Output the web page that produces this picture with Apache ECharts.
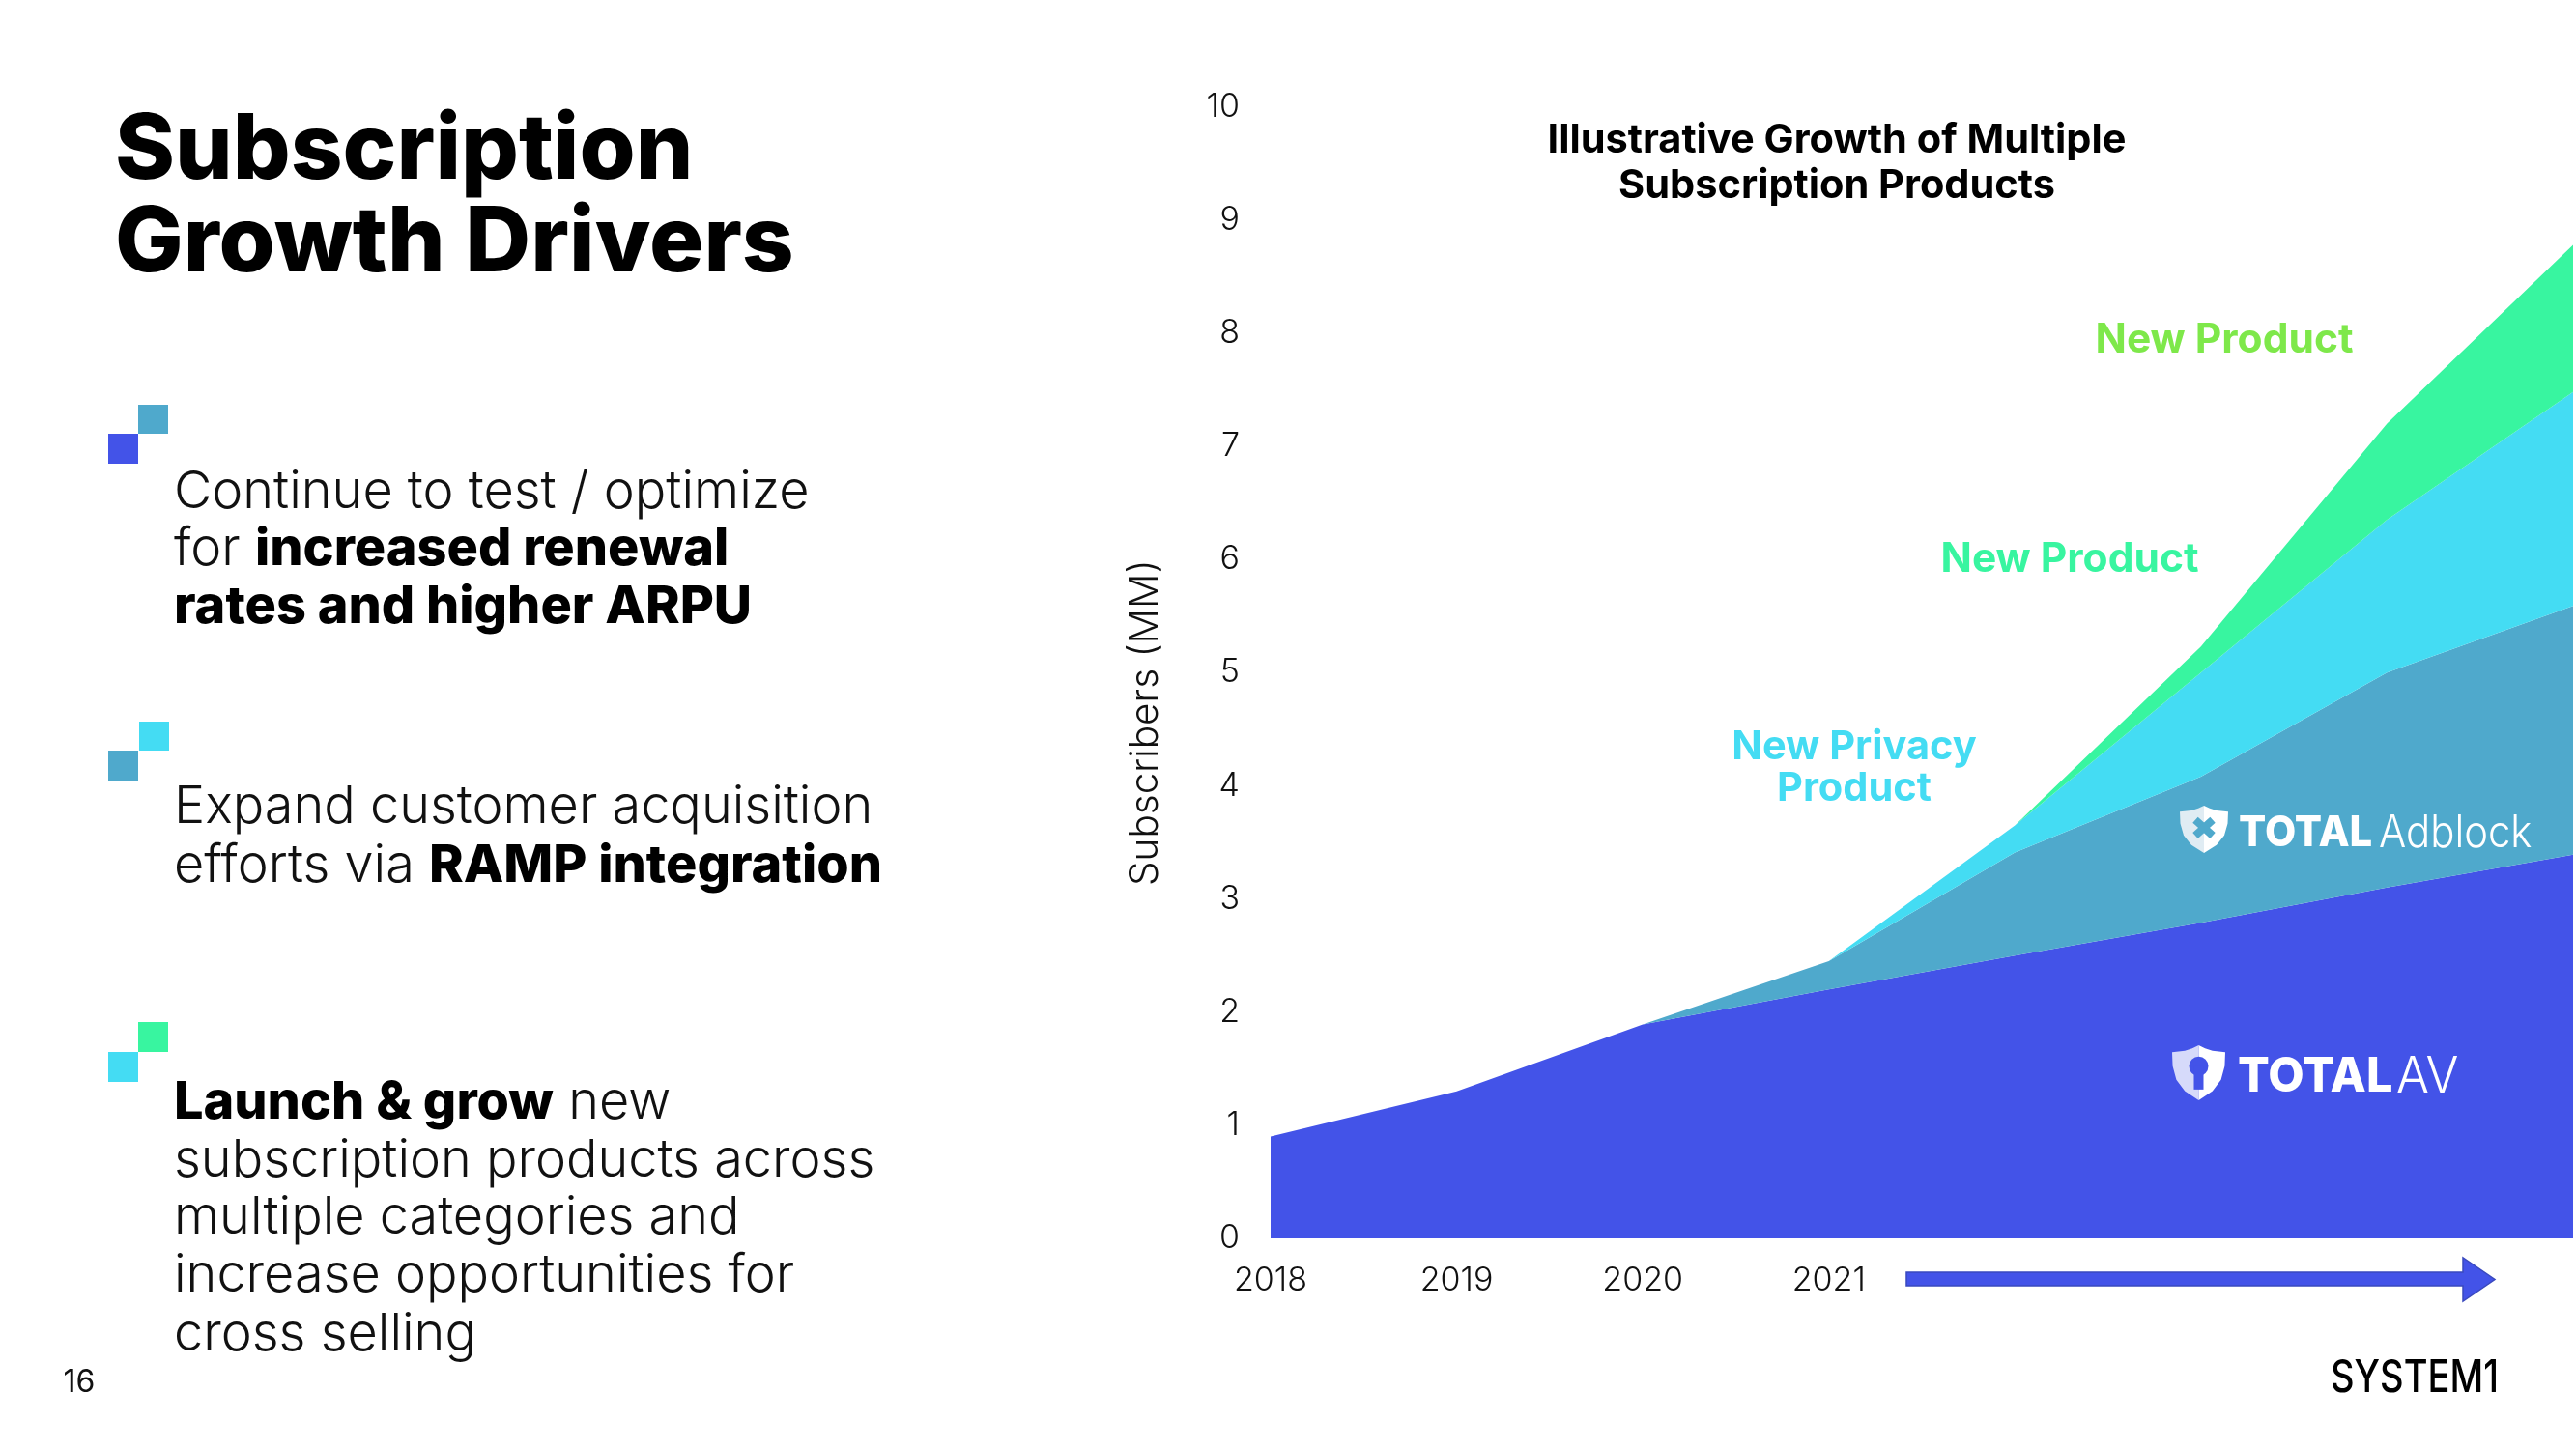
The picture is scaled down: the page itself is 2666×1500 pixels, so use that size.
<!DOCTYPE html>
<html><head><meta charset="utf-8">
<style>html,body{margin:0;padding:0;background:#fff;overflow:hidden}#c{width:2666px;height:1500px}</style>
<script src="https://cdn.jsdelivr.net/npm/echarts@6/dist/echarts.min.js"></script>
</head><body><div id="c"></div>
<script>
const years = ['2018','2019','2020','2021','2022','2023','2024','2025'];
const tickYears = ['2018','2019','2020','2021'];
const totalAV = [0.9,1.3,1.89,2.2,2.5,2.79,3.1,3.39];
const totalAdblock = [0,0,0,0.25,0.91,1.29,1.9,2.2];
const newPrivacy = [0,0,0,0,0.24,0.92,1.35,1.89];
const newProduct = [0,0,0,0,0,0.23,0.85,1.3];
const seriesNames = ['TOTAL AV','TOTAL Adblock','New Privacy Product','New Product'];
const seriesColors = ['#4353E8','#4FA9CC','#44DCF3','#38F5A0'];
const FONT = 'Inter';
const BLUE = '#4353E8', TEAL='#4FA9CC', CYAN='#44DCF3', GREEN='#38F5A0', LIME='#7EE84A';
const TOP = 50;

function sq(x,y,w,h,fill){return {type:'rect',z:TOP,shape:{x,y,width:w,height:h},style:{fill},silent:true};}
function txt(x,y,text,size,weight,fill,align,scaleX){
  return {type:'text',z:TOP,silent:true,x,y,scaleX:scaleX||1,style:{x:0,y:0,text,fontFamily:FONT,fontSize:size,fontWeight:weight,fill,align:align||'left',verticalAlign:'middle'}};
}
function body(y,text){
  return {type:'text',z:TOP,silent:true,style:{x:180,y:y+3,text,verticalAlign:'middle',fontFamily:FONT,
    rich:{l:{fontFamily:FONT,fontSize:54,fontWeight:300,fill:'#111'},b:{fontFamily:FONT,fontSize:54,fontWeight:800,fill:'#000'}}}};
}
const shieldLeft=[[50,0],[38,7],[24,12],[0,15],[1,45],[8,75],[24,100],[50,120]];
const shieldRight=[[50,0],[62,7],[76,12],[100,15],[99,45],[92,75],[76,100],[50,120]];
function shield(x,y,w,h,cut,kind){
  const sx=w/100, sy=h/120;
  const scale=p=>p.map(q=>[q[0]*sx,q[1]*sy]);
  const z=TOP;
  const ch=[
    {type:'polygon',z,shape:{points:scale(shieldLeft)},style:{fill:kind==='x'?'#E0ECF3':'#D6DAFA'}},
    {type:'polygon',z,shape:{points:scale(shieldRight)},style:{fill:'#fff'}}
  ];
  if(kind==='x'){
    ch.push({type:'line',z:z+1,shape:{x1:32*sx,y1:36*sy,x2:68*sx,y2:76*sy},style:{stroke:cut,lineWidth:8}});
    ch.push({type:'line',z:z+1,shape:{x1:68*sx,y1:36*sy,x2:32*sx,y2:76*sy},style:{stroke:cut,lineWidth:8}});
  }else{
    ch.push({type:'circle',z:z+1,shape:{cx:50*sx,cy:46*sy,r:10},style:{fill:cut}});
    ch.push({type:'rect',z:z+1,shape:{x:50*sx-5,y:46*sy,width:10,height:24},style:{fill:cut}});
  }
  return {type:'group',x,y,silent:true,children:ch};
}
const graphics=[
  txt(119,157,'Subscription',94,800,'#000'),
  txt(119,253,'Growth Drivers',94,800,'#000'),
  sq(143,419,31,30,TEAL),sq(112,449,31,31,BLUE),
  sq(144,747,31,30,CYAN),sq(112,777,31,31,TEAL),
  sq(143,1058,31,31,GREEN),sq(112,1089,31,31,CYAN),
  body(507,'{l|Continue to test / optimize}'),
  body(566,'{l|for }{b|increased renewal}'),
  body(626,'{b|rates and higher ARPU}'),
  body(833,'{l|Expand customer acquisition}'),
  body(894,'{l|efforts via }{b|RAMP integration}'),
  body(1139,'{b|Launch & grow}{l| new}'),
  body(1199,'{l|subscription products across}'),
  body(1258,'{l|multiple categories and}'),
  body(1318,'{l|increase opportunities for}'),
  body(1379,'{l|cross selling}'),
  txt(82,1431,'16',32,400,'#111','center'),
  txt(2302,352,'New Product',42.5,700,LIME,'center'),
  txt(2142,579,'New Product',42.5,700,GREEN,'center'),
  txt(1919,774,'New Privacy',41.5,700,CYAN,'center'),
  txt(1919,817,'Product',41.5,700,CYAN,'center'),
  shield(2256,834,50,49,TEAL,'x'),
  txt(2317,863,'TOTAL',44,800,'#fff','left',0.95),
  txt(2462,863,'Adblock',46,300,'#fff','left',0.91),
  shield(2248,1082,55,57,BLUE,'key'),
  txt(2316,1115,'TOTAL',50,800,'#fff','left',0.97),
  txt(2480,1115,'AV',52,300,'#fff','left',0.97),
  {type:'polygon',z:TOP,silent:true,shape:{points:[[1973,1317],[2549,1317],[2549,1302],[2582,1324.5],[2549,1347],[2549,1331],[1973,1331]]},style:{fill:BLUE,stroke:'#3A49BE',lineWidth:1.5}},
  txt(2412,1427,'SYSTEM1',47,500,'#000','left',0.81)
];
const allSeries=[totalAV,totalAdblock,newPrivacy,newProduct].map((data,i)=>({
  name:seriesNames[i],type:'line',stack:'subs',data,symbol:'none',silent:true,clip:false,
  lineStyle:{width:0},areaStyle:{color:seriesColors[i],opacity:1},itemStyle:{color:seriesColors[i]}
}));
const chart=echarts.init(document.getElementById('c'));
chart.setOption({
  animation:false,backgroundColor:'#fff',
  title:{text:'Illustrative Growth of Multiple\nSubscription Products',left:1896,top:117,textAlign:'center',
    textStyle:{fontFamily:FONT,fontSize:41.5,fontWeight:700,color:'#000',lineHeight:47}},
  grid:{left:1315,right:0,top:110.5,bottom:218,containLabel:false},
  xAxis:{type:'category',data:years,boundaryGap:false,axisLine:{show:false},axisTick:{show:false},splitLine:{show:false},
    axisLabel:{fontFamily:FONT,fontSize:34,fontWeight:300,color:'#111',margin:27,showMaxLabel:true,hideOverlap:false,interval:0,
      formatter:v=>tickYears.includes(v)?v:''}},
  yAxis:{type:'value',min:0,max:10,interval:1,axisLine:{show:false},axisTick:{show:false},splitLine:{show:false},
    name:'Subscribers (MM)',nameLocation:'middle',nameGap:109,
    nameTextStyle:{fontFamily:FONT,fontSize:40.5,fontWeight:300,color:'#111',padding:[0,104,0,0]},
    axisLabel:{fontFamily:FONT,fontSize:34,fontWeight:300,color:'#111',margin:32,padding:[9,0,0,0]}},
  series:allSeries,
  graphic:{elements:graphics}
});
</script></body></html>
